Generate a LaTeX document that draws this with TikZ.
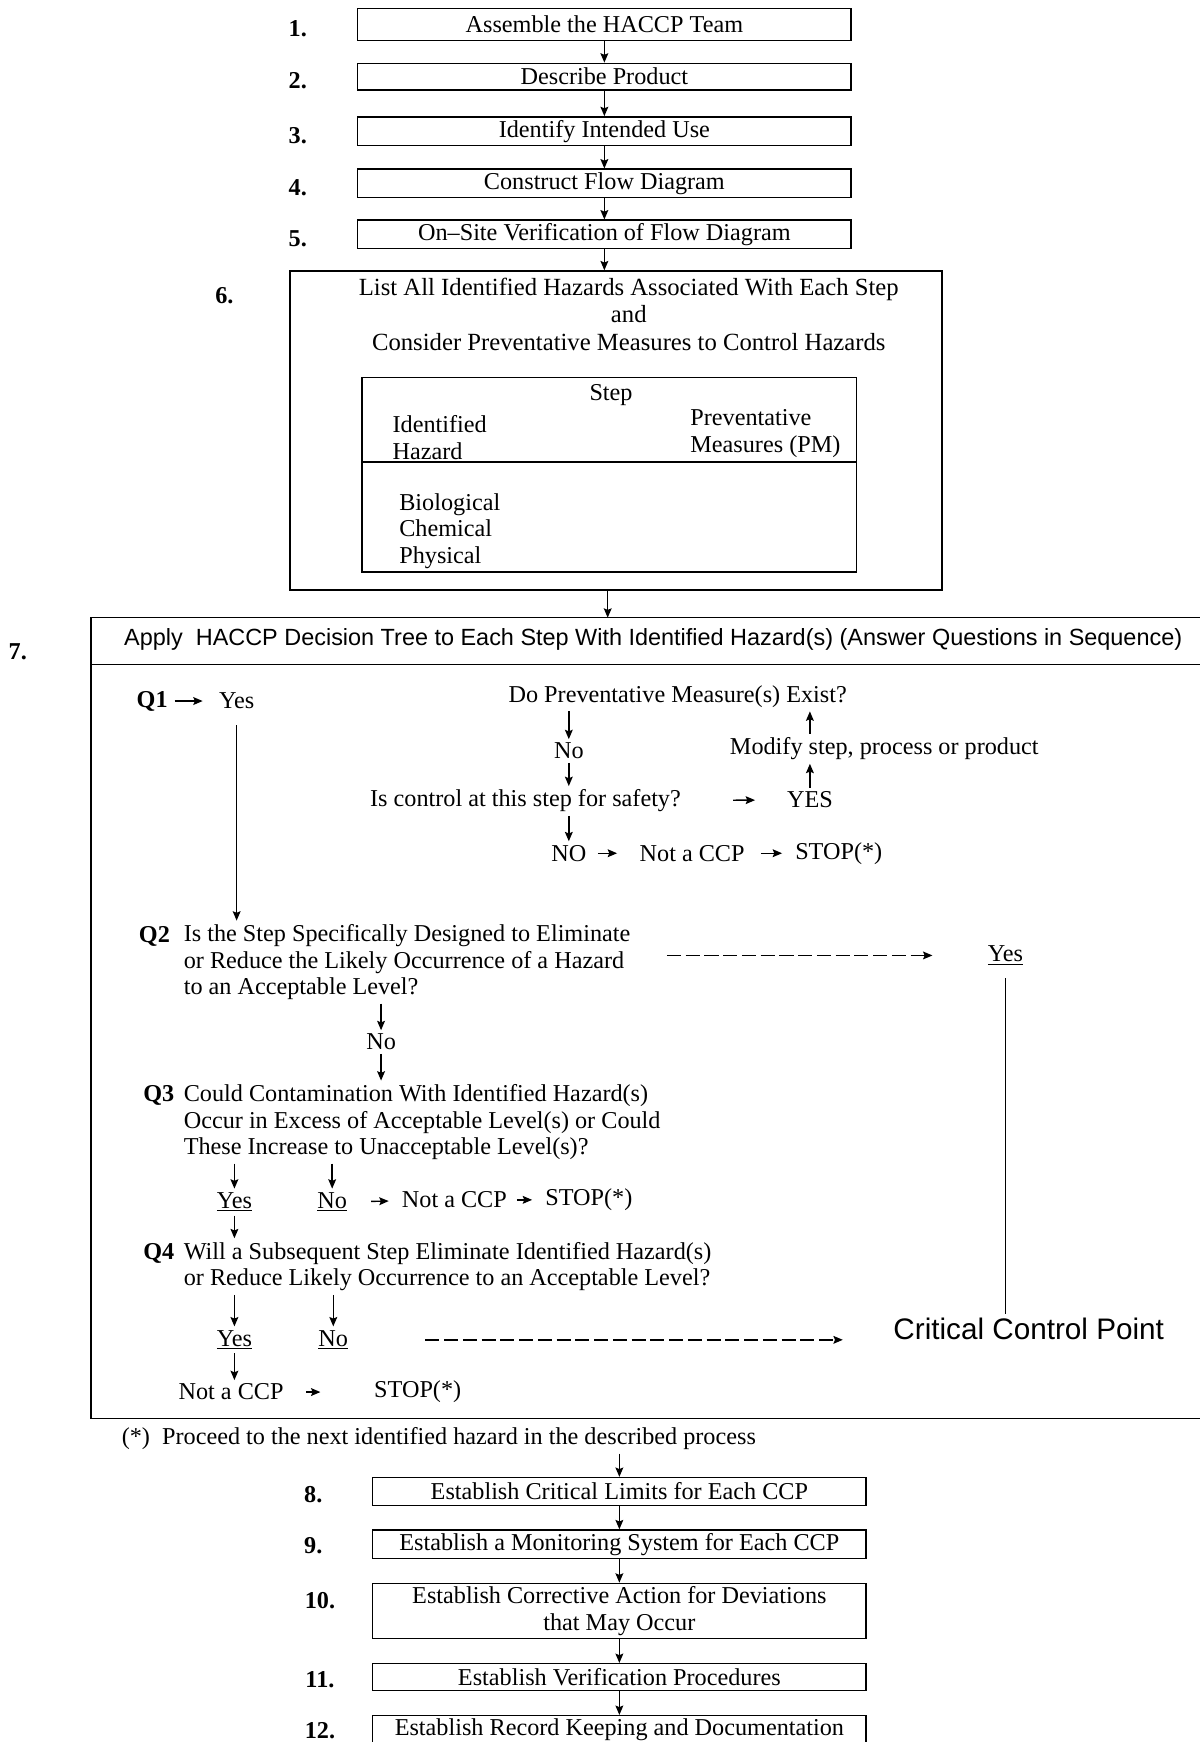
\documentclass[tikz,border=0pt]{standalone}
\usepackage{fontspec}
\setmainfont{Liberation Serif}
\setsansfont{Liberation Sans}
\usetikzlibrary{arrows.meta}

\begin{document}
\begin{tikzpicture}[x=0.025cm, y=-0.025cm, line width=0.9pt,
    >={Stealth[length=6pt,width=5pt,inset=1pt]},
    every node/.style={font=\fontsize{15.5}{17}\selectfont, inner sep=2pt},
    stepbox/.style={draw, minimum width=11.1cm, minimum height=0.6cm, align=center},
    numlbl/.style={font=\fontsize{15.5}{17}\selectfont\bfseries},
    qtxt/.style={anchor=west, align=left},
    sanstxt/.style={font=\fontsize{15}{17}\selectfont\sffamily}]
  \useasboundingbox (0,0) rectangle (1080,1568);

  % steps 1 to 5
  \node[stepbox, minimum height=0.72cm] (b1) at (544,22) {Assemble the HACCP Team};
  \node[stepbox] (b2) at (544,69) {Describe Product};
  \node[stepbox] (b3) at (544,118) {Identify Intended Use};
  \node[stepbox] (b4) at (544,165) {Construct Flow Diagram};
  \node[stepbox] (b5) at (544,211) {On--Site Verification of Flow Diagram};
  \node[numlbl] (n1) at (268,26) {1.};
  \node[numlbl] (n2) at (268,73) {2.};
  \node[numlbl] (n3) at (268,122) {3.};
  \node[numlbl] (n4) at (268,169) {4.};
  \node[numlbl] (n5) at (268,215) {5.};
  \foreach \a/\b in {b1/b2, b2/b3, b3/b4, b4/b5}
    \draw[->] (\a) -- (\b);

  % step 6 with the hazard table
  \node[draw, minimum width=14.675cm, minimum height=7.175cm] (b6) at (554.5,387.5) {};
  \draw[->] (b5) -- (b5 |- b6.north);
  \node[numlbl] (n6) at (202,266) {6.};
  \node[align=center, font=\fontsize{15.8}{17.4}\selectfont] (h6) at (566,283)
    {List All Identified Hazards Associated With Each Step\\and\\Consider Preventative Measures to Control Hazards};
  \node[draw, minimum width=11.125cm, minimum height=4.375cm] (tbl) at (548.5,427.5) {};
  \node (stp) at (550,356) {Step};
  \node[qtxt] (hz) at (350,394) {Identified\\Hazard};
  \node[qtxt] (pvm) at (618,390) {Preventative\\Measures (PM)};
  \draw (tbl.west |- 0,416) -- (tbl.east |- 0,416);
  \node[qtxt] (kinds) at (356,478) {Biological\\Chemical\\Physical};

  % step 7, the decision tree (box open to the right)
  \coordinate (b7top) at (547,556);
  \draw[->] (b6.south -| b7top) -- (b7top);
  \draw (1080,556) -- (82,556) -- (82,1277) -- (1080,1277);
  \draw (82,598) -- (1080,598);
  \node[numlbl] (n7) at (16,587) {7.};
  \node[sanstxt] (hd7) at (588,576)
    {Apply\ \ HACCP Decision Tree to Each Step With Identified Hazard(s) (Answer Questions in Sequence)};

  % Q1
  \node[numlbl] (q1) at (137,631) {Q1};
  \node (q1yes) at (213,631) {Yes};
  \draw[->, shorten <=2pt, shorten >=8pt] (q1) -- (q1yes);
  \node (pm) at (610,627) {Do Preventative Measure(s) Exist?};
  \node (no1) at (512,676) {No};
  \node (ctl) at (473,721) {Is control at this step for safety?};
  \node (yes1) at (729,720) {YES};
  \node (mod) at (796,674) {Modify step, process or product};
  \node (no2) at (512,768) {NO};
  \node (ncp1) at (623,768) {Not a CCP};
  \node (stop1) at (755,768) {STOP(*)};
  \draw[->] (pm.south -| no1) -- (no1);
  \draw[->] (no1) -- (no1 |- ctl.north);
  \draw[->] (ctl.south -| no2) -- (no2);
  \draw[->, shorten <=31pt, shorten >=18pt] (ctl) -- (yes1);
  \draw[->] (yes1) -- (yes1 |- mod.south);
  \draw[->] (mod.north -| yes1) -- (yes1 |- pm.south);
  \draw[->, shorten <=5pt, shorten >=12pt] (no2) -- (ncp1);
  \draw[->, shorten <=8pt, shorten >=6pt] (ncp1) -- (stop1);

  % Q2
  \node[numlbl] (q2) at (139,843) {Q2};
  \node[qtxt] (q2txt) at (162,866)
    {Is the Step Specifically Designed to Eliminate\\or Reduce the Likely Occurrence of a Hazard\\to an Acceptable Level?};
  \draw[->, shorten <=8pt] (q1yes) -- (q1yes |- q2txt.north);
  \node (yes2) at (905,860) {\underline{Yes}};
  \draw[->, dash pattern=on 9pt off 3pt, shorten <=21pt, shorten >=33pt] (q2txt.east |- yes2) -- (yes2);
  \node[sanstxt, font=\fontsize{19}{22}\selectfont\sffamily] (ccp) at (926,1196) {Critical Control Point};
  \draw[shorten <=6pt] (yes2) -- (yes2 |- ccp.north);
  \node (no3) at (343,938) {No};
  \draw[->] (q2txt.south -| no3) -- (no3);

  % Q3
  \node[numlbl] (q3) at (143,986) {Q3};
  \node[qtxt] (q3txt) at (162,1010)
    {Could Contamination With Identified Hazard(s)\\Occur in Excess of Acceptable Level(s) or Could\\These Increase to Unacceptable Level(s)?};
  \draw[->] (no3) -- (no3 |- q3txt.north);
  \node (yes3) at (211,1082) {\underline{Yes}};
  \node (no4) at (299,1082) {\underline{No}};
  \node (ncp2) at (409,1080) {Not a CCP};
  \node (stop2) at (530,1080) {STOP(*)};
  \draw[->] (q3txt.south -| yes3) -- (yes3);
  \draw[->] (q3txt.south -| no4) -- (no4);
  \draw[->, shorten <=13pt, shorten >=6pt] (no4) -- (ncp2);
  \draw[->, shorten <=4pt, shorten >=6pt] (ncp2) -- (stop2);

  % Q4
  \node[numlbl] (q4) at (143,1128) {Q4};
  \node[qtxt] (q4txt) at (162,1140)
    {Will a Subsequent Step Eliminate Identified Hazard(s)\\or Reduce Likely Occurrence to an Acceptable Level?};
  \draw[->] (yes3) -- (yes3 |- q4txt.north);
  \node (yes4) at (211,1206) {\underline{Yes}};
  \node (no5) at (300,1206) {\underline{No}};
  \draw[->] (q4txt.south -| yes4) -- (yes4);
  \draw[->] (q4txt.south -| no5) -- (no5);
  \draw[->, dash pattern=on 9pt off 3pt, shorten <=47pt, shorten >=30pt] (no5) -- (ccp.west |- no5);
  \node (ncp3) at (208,1253) {Not a CCP};
  \node (stop3) at (376,1253) {STOP(*)};
  \draw[->] (yes4) -- (yes4 |- ncp3.north);
  \draw[->, shorten <=12pt, shorten >=32pt] (ncp3) -- (stop3);

  % footnote and steps 8 to 12
  \node (fn) at (395,1295) {(*)\ \ Proceed to the next identified hazard in the described process};
  \node[stepbox, minimum height=0.625cm] (b8) at (557.5,1342.5) {Establish Critical Limits for Each CCP};
  \node[stepbox] (b9) at (557.5,1390) {Establish a Monitoring System for Each CCP};
  \node[stepbox, minimum height=1.2cm] (b10) at (557.5,1450) {Establish Corrective Action for Deviations\\that May Occur};
  \node[stepbox] (b11) at (557.5,1509.5) {Establish Verification Procedures};
  \node[stepbox, minimum height=0.52cm] (b12) at (557.5,1557) {Establish Record Keeping and Documentation};
  \node[numlbl] (n8) at (282,1345) {8.};
  \node[numlbl] (n9) at (282,1391) {9.};
  \node[numlbl] (n10) at (288,1441) {10.};
  \node[numlbl] (n11) at (288,1512) {11.};
  \node[numlbl] (n12) at (288,1558) {12.};
  \draw[->] (fn.south -| b8) -- (b8);
  \foreach \a/\b in {b8/b9, b9/b10, b10/b11, b11/b12}
    \draw[->] (\a) -- (\b);
\end{tikzpicture}
\end{document}
